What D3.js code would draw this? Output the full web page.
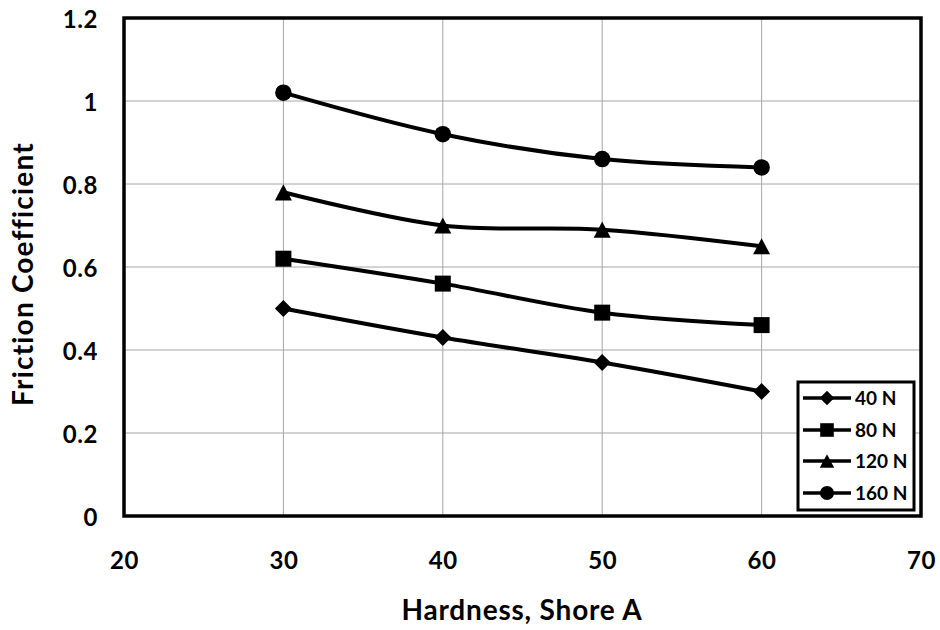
<!DOCTYPE html>
<html>
<head>
<meta charset="utf-8">
<script src="https://cdn.jsdelivr.net/npm/d3@7"></script>
<style>
  html, body { margin: 0; padding: 0; background: #fff; }
  svg { display: block; font-family: Lato, "Open Sans", sans-serif; font-weight: bold; }
</style>
</head>
<body>
<svg id="chart" width="940" height="630"></svg>
<script>
const hardness = [30, 40, 50, 60];
const seriesNames = ["40 N", "80 N", "120 N", "160 N"];
const f40 = [0.50, 0.43, 0.37, 0.30];
const f80 = [0.62, 0.56, 0.49, 0.46];
const f120 = [0.78, 0.70, 0.69, 0.65];
const f160 = [1.02, 0.92, 0.86, 0.84];
const xTicks = [20, 30, 40, 50, 60, 70];
const yTicks = [0, 0.2, 0.4, 0.6, 0.8, 1.0, 1.2];

// custom symbols: "size" = marker width in px
const diamond = { draw(ctx, s) { const r = s / 2; ctx.moveTo(0, -r); ctx.lineTo(r, 0); ctx.lineTo(0, r); ctx.lineTo(-r, 0); ctx.closePath(); } };
const square = { draw(ctx, s) { const r = s / 2; ctx.rect(-r, -r, s, s); } };
const triangle = { draw(ctx, s) { const w = s, h = s * 0.95; ctx.moveTo(0, -h / 2); ctx.lineTo(w / 2, h / 2); ctx.lineTo(-w / 2, h / 2); ctx.closePath(); } };
const circle = { draw(ctx, s) { const r = s / 2; ctx.moveTo(r, 0); ctx.arc(0, 0, r, 0, 2 * Math.PI); } };
const markerTypes = [diamond, square, triangle, circle];
const markerSizes = [17, 16, 17, 16.5];

const series = [f40, f80, f120, f160].map((vals, i) => ({
  name: seriesNames[i],
  points: hardness.map((h, j) => ({ x: h, y: vals[j] })),
  symbol: markerTypes[i],
  size: markerSizes[i]
}));

const svg = d3.select("#chart");
const L = 124, R = 921, T = 18, B = 516;
const x = d3.scaleLinear().domain([20, 70]).range([L, R]);
const y = d3.scaleLinear().domain([0, 1.2]).range([B, T]);

// gridlines
svg.append("g").selectAll("line").data(xTicks.slice(1, -1)).join("line")
  .attr("x1", d => x(d)).attr("x2", d => x(d)).attr("y1", T).attr("y2", B)
  .attr("stroke", "#a6a6a6").attr("stroke-width", 1);
svg.append("g").selectAll("line").data(yTicks.slice(1, -1)).join("line")
  .attr("y1", d => y(d)).attr("y2", d => y(d)).attr("x1", L).attr("x2", R)
  .attr("stroke", "#a6a6a6").attr("stroke-width", 1);

// axes (labels only)
const xAxis = d3.axisBottom(x).tickValues(xTicks).tickSize(0).tickPadding(0).tickFormat(d3.format("d"));
const gx = svg.append("g").attr("transform", `translate(0,${B})`).call(xAxis);
gx.select(".domain").remove();
gx.selectAll("text").attr("dy", null).attr("y", 53).attr("font-size", 24)
  .attr("letter-spacing", 0.6).attr("font-family", "Lato, sans-serif").attr("font-weight", "bold").attr("fill", "#000");

const yAxis = d3.axisLeft(y).tickValues(yTicks).tickSize(0).tickPadding(0)
  .tickFormat(d => d === 0 ? "0" : (d === 1 ? "1" : d3.format(".1f")(d)));
const gy = svg.append("g").attr("transform", `translate(${L - 26},0)`).call(yAxis);
gy.select(".domain").remove();
gy.selectAll("text").attr("dy", "0.38em").attr("font-size", 24)
  .attr("letter-spacing", 0.6).attr("font-family", "Lato, sans-serif").attr("font-weight", "bold").attr("fill", "#000");

// frame
svg.append("rect").attr("x", L).attr("y", T).attr("width", R - L).attr("height", B - T)
  .attr("fill", "none").attr("stroke", "#000").attr("stroke-width", 3.5);

// lines
const line = d3.line().x(d => x(d.x)).y(d => y(d.y)).curve(d3.curveCatmullRom.alpha(0.5));
svg.append("g").selectAll("path").data(series).join("path")
  .attr("d", d => line(d.points)).attr("fill", "none").attr("stroke", "#000").attr("stroke-width", 4);

// markers
series.forEach(s => {
  svg.append("g").selectAll("path").data(s.points).join("path")
    .attr("transform", d => `translate(${x(d.x)},${y(d.y)})`)
    .attr("d", d3.symbol().type(s.symbol).size(s.size)).attr("fill", "#000");
});

// legend
const lg = svg.append("g");
lg.append("rect").attr("x", 798).attr("y", 382).attr("width", 116).attr("height", 128)
  .attr("fill", "#fff").attr("stroke", "#000").attr("stroke-width", 3);
const ly = [398, 430, 461, 493];
series.forEach((s, i) => {
  lg.append("line").attr("x1", 803).attr("x2", 851).attr("y1", ly[i]).attr("y2", ly[i])
    .attr("stroke", "#000").attr("stroke-width", 3.5);
  lg.append("path").attr("transform", `translate(827,${ly[i]})`)
    .attr("d", d3.symbol().type(s.symbol).size(s.size * 0.85)).attr("fill", "#000");
  lg.append("text").attr("x", 855).attr("y", ly[i]).attr("dy", "0.36em")
    .attr("font-size", 19).text(s.name);
});

// axis titles
svg.append("text").attr("x", 522).attr("y", 620).attr("text-anchor", "middle")
  .attr("font-size", 28).attr("letter-spacing", 0.8).text("Hardness, Shore A");
svg.append("text").attr("transform", "translate(33,274) rotate(-90)").attr("text-anchor", "middle")
  .attr("font-size", 28).attr("letter-spacing", 1.2).text("Friction Coefficient");
</script>
</body>
</html>
